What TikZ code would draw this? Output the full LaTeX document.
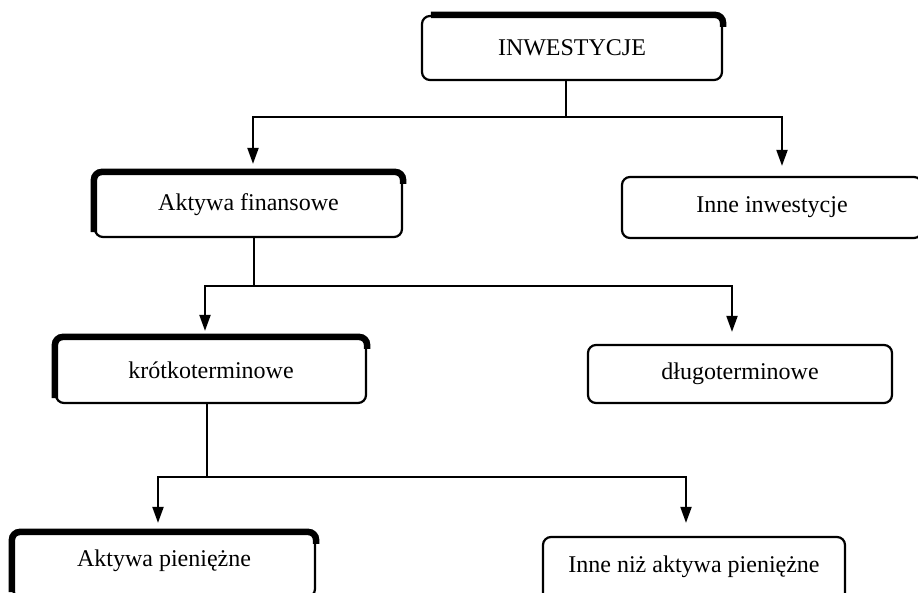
\documentclass[tikz,border=0pt]{standalone}
\usepackage{fontspec}
\setmainfont{Liberation Serif}
\usetikzlibrary{arrows.meta}
\begin{document}
\begin{tikzpicture}[x=1pt,y=-1pt,
  box/.style={draw, line width=2.2pt, rounded corners=8pt, inner sep=0pt,
    font=\fontsize{24}{28}\selectfont},
  heavy/.style={line width=6.5pt, rounded corners=8pt, line cap=butt},
  link/.style={line width=2pt},
  arr/.style={line width=2pt, -{Triangle[length=16pt,width=11pt]}}]
\useasboundingbox (0,0) rectangle (918,592);
\clip (0,0) rectangle (918,592);
% boxes
\node[box, minimum width=300pt, minimum height=64pt] (n1) at (572,48) {INWESTYCJE};
\node[box, minimum width=307pt, minimum height=64pt] (n2) at (248.5,205) {Aktywa finansowe};
\node[box, minimum width=300pt, minimum height=61pt] (n3) at (772,207.5) {Inne inwestycje};
\node[box, minimum width=310pt, minimum height=65pt] (n4) at (211,370.5) {krótkoterminowe};
\node[box, minimum width=304pt, minimum height=58pt] (n5) at (740,374) {długoterminowe};
\node[box, minimum width=302pt, minimum height=64pt, text depth=14pt] (n6) at (164,565) {Aktywa pieniężne};
\node[box, minimum width=302pt, minimum height=64pt, text depth=10pt] (n7) at (694,569) {Inne niż aktywa pieniężne};
% heavy edges
\draw[heavy] ([xshift=10pt]n1.north west) -- (n1.north east) -- ([yshift=-12pt]n1.north east);
\draw[heavy] ([yshift=6pt]n2.south west) -- (n2.north west) -- (n2.north east) -- ([yshift=-12pt]n2.north east);
\draw[heavy] ([yshift=6pt]n4.south west) -- (n4.north west) -- (n4.north east) -- ([yshift=-12pt]n4.north east);
\draw[heavy] ([yshift=6pt]n6.south west) -- (n6.north west) -- (n6.north east) -- ([yshift=-12pt]n6.north east);
% connectors
\coordinate (j1) at (566,117);
\coordinate (c2) at (253,0);
\coordinate (c3) at (782,0);
\draw[link] (j1 |- n1.south) -- (j1);
\draw[arr, shorten >=8pt] (j1) -| (c2 |- n2.north);
\draw[arr, shorten >=10pt] (j1) -| (c3 |- n3.north);
\coordinate (j2) at (254,286);
\coordinate (c4) at (205,0);
\coordinate (c5) at (732,0);
\draw[link] (j2 |- n2.south) -- (j2);
\draw[arr, shorten >=6pt] (j2) -| (c4 |- n4.north);
\draw[arr, shorten >=12pt] (j2) -| (c5 |- n5.north);
\coordinate (j3) at (207,477);
\coordinate (c6) at (158,0);
\coordinate (c7) at (686,0);
\draw[link] (j3 |- n4.south) -- (j3);
\draw[arr, shorten >=9pt] (j3) -| (c6 |- n6.north);
\draw[arr, shorten >=13pt] (j3) -| (c7 |- n7.north);
\end{tikzpicture}
\end{document}
